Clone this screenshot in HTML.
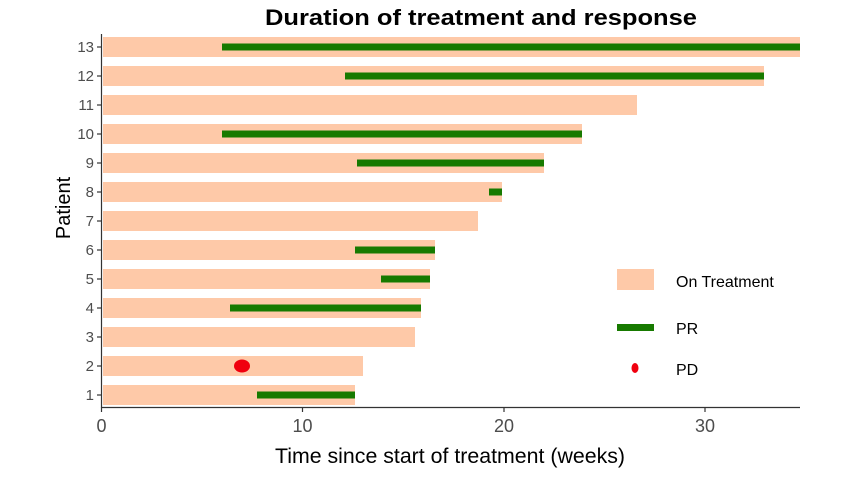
<!DOCTYPE html><html><head><style>body{margin:0;background:#fff}</style></head><body>
<svg width="846" height="474" xmlns="http://www.w3.org/2000/svg" font-family="Liberation Sans, sans-serif">
<text x="265" y="25" font-size="22" font-weight="bold" textLength="432" lengthAdjust="spacingAndGlyphs">Duration of treatment and response</text>
<g fill="#fec9a8">
<rect x="103" y="37" width="697" height="20"/>
<rect x="103" y="66" width="661" height="20"/>
<rect x="103" y="95" width="534" height="20"/>
<rect x="103" y="124" width="479" height="20"/>
<rect x="103" y="153" width="441" height="20"/>
<rect x="103" y="182" width="399" height="20"/>
<rect x="103" y="211" width="375" height="20"/>
<rect x="103" y="240" width="332" height="20"/>
<rect x="103" y="269" width="327" height="20"/>
<rect x="103" y="298" width="318" height="20"/>
<rect x="103" y="327" width="312" height="20"/>
<rect x="103" y="356" width="260" height="20"/>
<rect x="103" y="385" width="252" height="20"/>
</g>
<g fill="#177a00">
<rect x="222" y="43.5" width="578" height="7"/>
<rect x="345" y="72.5" width="419" height="7"/>
<rect x="222" y="130.5" width="360" height="7"/>
<rect x="357" y="159.5" width="187" height="7"/>
<rect x="489" y="188.5" width="13" height="7"/>
<rect x="355" y="246.5" width="80" height="7"/>
<rect x="381" y="275.5" width="49" height="7"/>
<rect x="230" y="304.5" width="191" height="7"/>
<rect x="257" y="391.5" width="98" height="7"/>
</g>
<ellipse cx="242" cy="366" rx="8" ry="6.5" fill="#f0000f"/>
<g stroke="#333" stroke-width="1.2">
<line x1="101.5" y1="34" x2="101.5" y2="407.5"/>
<line x1="101" y1="407.5" x2="800" y2="407.5"/>
<line x1="101.5" y1="407" x2="101.5" y2="412"/><line x1="302.5" y1="407" x2="302.5" y2="412"/><line x1="504" y1="407" x2="504" y2="412"/><line x1="705" y1="407" x2="705" y2="412"/>
<line x1="97" y1="47" x2="101" y2="47"/><line x1="97" y1="76" x2="101" y2="76"/><line x1="97" y1="105" x2="101" y2="105"/><line x1="97" y1="134" x2="101" y2="134"/><line x1="97" y1="163" x2="101" y2="163"/><line x1="97" y1="192" x2="101" y2="192"/><line x1="97" y1="221" x2="101" y2="221"/><line x1="97" y1="250" x2="101" y2="250"/><line x1="97" y1="279" x2="101" y2="279"/><line x1="97" y1="308" x2="101" y2="308"/><line x1="97" y1="337" x2="101" y2="337"/><line x1="97" y1="366" x2="101" y2="366"/><line x1="97" y1="395" x2="101" y2="395"/>
</g>
<g font-size="15" fill="#4d4d4d" text-anchor="end">
<text x="94" y="52">13</text><text x="94" y="81">12</text><text x="94" y="110">11</text><text x="94" y="139">10</text><text x="94" y="168">9</text><text x="94" y="197">8</text><text x="94" y="226">7</text><text x="94" y="255">6</text><text x="94" y="284">5</text><text x="94" y="313">4</text><text x="94" y="342">3</text><text x="94" y="371">2</text><text x="94" y="400">1</text>
</g>
<g font-size="18" fill="#4d4d4d" text-anchor="middle">
<text x="101.5" y="432">0</text><text x="302.5" y="432">10</text><text x="504" y="432">20</text><text x="705" y="432">30</text>
</g>
<text x="275" y="463" font-size="21" textLength="350" lengthAdjust="spacingAndGlyphs">Time since start of treatment (weeks)</text>
<text transform="translate(70,208) rotate(-90)" text-anchor="middle" font-size="20">Patient</text>
<rect x="617" y="269" width="37" height="21" fill="#fec9a8"/>
<rect x="617" y="324" width="37" height="7" fill="#177a00"/>
<ellipse cx="635" cy="368" rx="3.5" ry="5" fill="#f0000f"/>
<g font-size="16" fill="#000">
<text x="676" y="287">On Treatment</text><text x="676" y="334">PR</text><text x="676" y="375">PD</text>
</g>
</svg></body></html>
